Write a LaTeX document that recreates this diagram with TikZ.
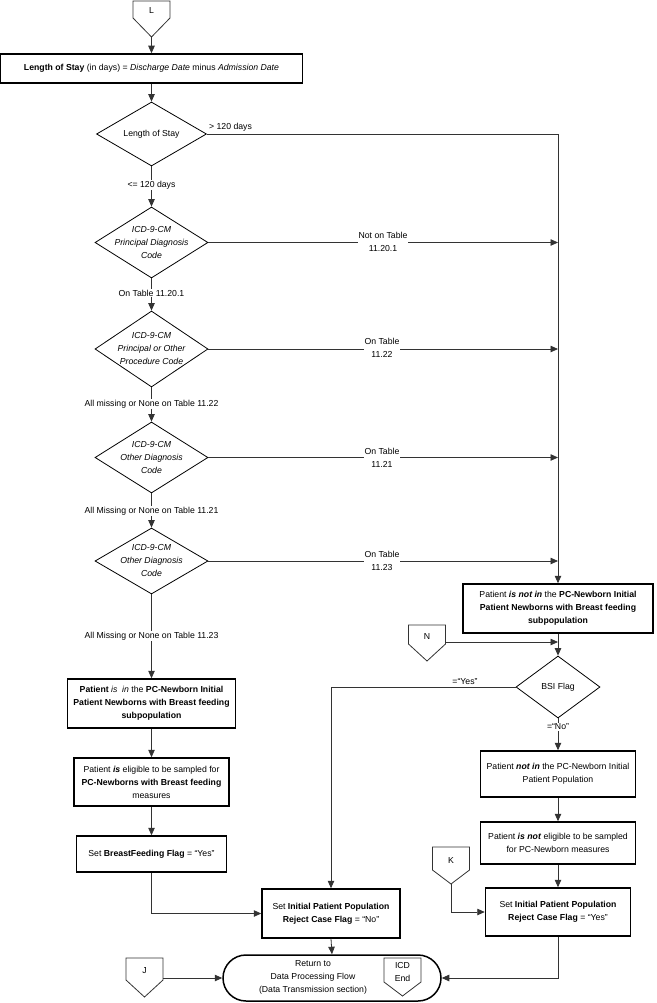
\documentclass[tikz,border=0pt]{standalone}
\usepackage{fontspec}
\setmainfont{Liberation Sans}
\usetikzlibrary{arrows.meta,shapes.geometric,calc}
\newcommand\offpg[6]{%
  \draw[conn] ({#2-18.5},#3) -- ({#2+18.5},#3) -- ({#2+18.5},#4) -- (#2,#5) -- ({#2-18.5},#4) -- cycle;
  \coordinate (#1-tip) at (#2,#5);
  \coordinate (#1-e) at ({#2+18.5},{#4-2});
  \node (#1) at (#2,{(#3+#4)/2+1.5}) {#6};
}
\begin{document}
\begin{tikzpicture}[x=1pt,y=-1pt,
  every node/.style={font=\fontsize{8.7}{13}\selectfont, inner sep=0pt, align=center},
  itxt/.style={font=\fontsize{8.7}{13}\selectfont\itshape},
  box/.style={draw=black, line width=1.5pt, fill=white, inner sep=2pt},
  dia/.style={draw=black, line width=0.8pt, diamond, inner sep=0pt},
  conn/.style={draw=black!80, line width=0.8pt},
  arr/.style={conn, -{Triangle[length=7.5pt,width=6.5pt]}},
  lbl/.style={fill=white, inner sep=1pt},
  term/.style={draw=black, line width=1.5pt, rounded corners=23pt},
]
\useasboundingbox (0,0) rectangle (656,1003);

% connectors (off-page)
\offpg{L}{151.5}{1}{18}{37}{L}
\offpg{N}{427}{625}{644}{661}{N}
\offpg{K}{451}{847}{870}{884}{K}
\offpg{J}{144.5}{958}{980}{997}{J}

% main column
\node[box, minimum width=302pt, minimum height=29pt] (b1) at (151.5,68.5)
  {\textbf{Length of Stay} (in days) = \textit{Discharge Date} minus \textit{Admission Date}};
\node[dia, minimum width=110pt, minimum height=64pt] (d1) at (151.5,134) {};
\node at (d1) {Length of Stay};
\node[dia, minimum width=113pt, minimum height=71pt] (d2) at (151.5,242.5) {};
\node[itxt] at (d2) {ICD-9-CM\\Principal Diagnosis\\Code};
\node[dia, minimum width=113pt, minimum height=76pt] (d3) at (151.5,349) {};
\node[itxt] at (d3) {ICD-9-CM\\Principal or Other\\Procedure Code};
\node[dia, minimum width=113pt, minimum height=71pt] (d4) at (151.5,457.5) {};
\node[itxt] at (d4) {ICD-9-CM\\Other Diagnosis\\Code};
\node[dia, minimum width=113pt, minimum height=66pt] (d5) at (151.5,561) {};
\node[itxt] at (d5) {ICD-9-CM\\Other Diagnosis\\Code};

\node[box, minimum width=168pt, minimum height=49pt] (la) at (151.5,703.5)
  {\textbf{Patient} \textit{is}\ \ \textit{in} the \textbf{PC-Newborn Initial}\\\textbf{Patient Newborns with Breast feeding}\\\textbf{subpopulation}};
\node[box, minimum width=155pt, minimum height=48pt] (lb) at (151.5,782)
  {Patient \textbf{\textit{is}} eligible to be sampled for\\\textbf{PC-Newborns with Breast feeding}\\measures};
\node[box, minimum width=150pt, minimum height=36pt] (lc) at (151.5,854)
  {Set \textbf{BreastFeeding Flag} = “Yes”};

% right column
\node[box, minimum width=190pt, minimum height=49pt] (ra) at (558,608.5)
  {Patient \textbf{\textit{is not in}} the \textbf{PC-Newborn Initial}\\\textbf{Patient Newborns with Breast feeding}\\\textbf{subpopulation}};
\node[dia, minimum width=84pt, minimum height=62pt] (bsi) at (558,687) {};
\node at (bsi) {BSI Flag};
\node[box, minimum width=155pt, minimum height=46pt] (rb) at (558,774)
  {Patient \textbf{\textit{not in}} the PC-Newborn Initial\\Patient Population};
\node[box, minimum width=155pt, minimum height=42pt] (rc) at (558,843)
  {Patient \textbf{\textit{is not}} eligible to be sampled\\for PC-Newborn measures};
\node[box, minimum width=145pt, minimum height=48pt] (rd) at (558,912)
  {Set \textbf{Initial Patient Population}\\\textbf{Reject Case Flag} = “Yes”};

% middle
\node[box, minimum width=138pt, minimum height=49pt] (mid) at (331,913.5)
  {Set \textbf{Initial Patient Population}\\\textbf{Reject Case Flag} = “No”};

% terminator
\node[term, minimum width=218pt, minimum height=46pt] (end) at (332,978) {};
\node (endtxt) at (313,977) {Return to\\Data Processing Flow\\(Data Transmission section)};
\offpg{icd}{402.5}{958}{982}{996}{ICD\\End}

% flow lines
\draw[arr] (L-tip) -- (b1.north);
\draw[arr] (b1.south) -- (d1.north);
\draw[arr] (d1.east) -- (d1.east -| ra.north) -- (ra.north);
\draw[arr] (d1.south) -- (d2.north);
\draw[arr] (d2.east) -- (d2.east -| ra.north);
\draw[arr] (d2.south) -- (d3.north);
\draw[arr] (d3.east) -- (d3.east -| ra.north);
\draw[arr] (d3.south) -- (d4.north);
\draw[arr] (d4.east) -- (d4.east -| ra.north);
\draw[arr] (d4.south) -- (d5.north);
\draw[arr] (d5.east) -- (d5.east -| ra.north);
\draw[arr] (d5.south) -- (la.north);
\draw[arr] (la.south) -- (lb.north);
\draw[arr] (lb.south) -- (lc.north);
\draw[arr] (lc.south) |- (mid.west);
\draw[arr] (ra.south) -- (bsi.north);
\draw[arr] (N-e) -- (N-e -| bsi.north);
\draw[arr] (bsi.west) -| (mid.north);
\draw[arr] (bsi.south) -- (rb.north);
\draw[arr] (rb.south) -- (rc.north);
\draw[arr] (rc.south) -- (rd.north);
\draw[arr] (K-tip) |- (rd.west);
\draw[arr] (rd.south) |- (end.east);
\draw[arr] (mid.south) -- (end.north);
\draw[arr] (J-e) -- (J-e -| end.west);

% labels
\node[anchor=south west, inner sep=1pt] (lgt) at ($(d1.east)+(1,-1)$) {> 120 days};
\node[lbl] (lle) at (151.5,185) {<= 120 days};
\node[lbl] (l1) at (151.5,293) {On Table 11.20.1};
\node[lbl] (l2) at (151.5,404) {All missing or None on Table 11.22};
\node[lbl] (l3) at (151.5,511) {All Missing or None on Table 11.21};
\node[lbl] (l4) at (151.5,636) {All Missing or None on Table 11.23};
\node[lbl] (r1) at (383,242) {Not on Table\\11.20.1};
\node[lbl] (r2) at (382,348) {On Table\\11.22};
\node[lbl] (r3) at (382,457.5) {On Table\\11.21};
\node[lbl] (r4) at (382,561) {On Table\\11.23};
\node[anchor=south, inner sep=1pt] (lyes) at (465,686) {=“Yes”};
\node[lbl] (lno) at (558,727) {=“No”};
\end{tikzpicture}
\end{document}
